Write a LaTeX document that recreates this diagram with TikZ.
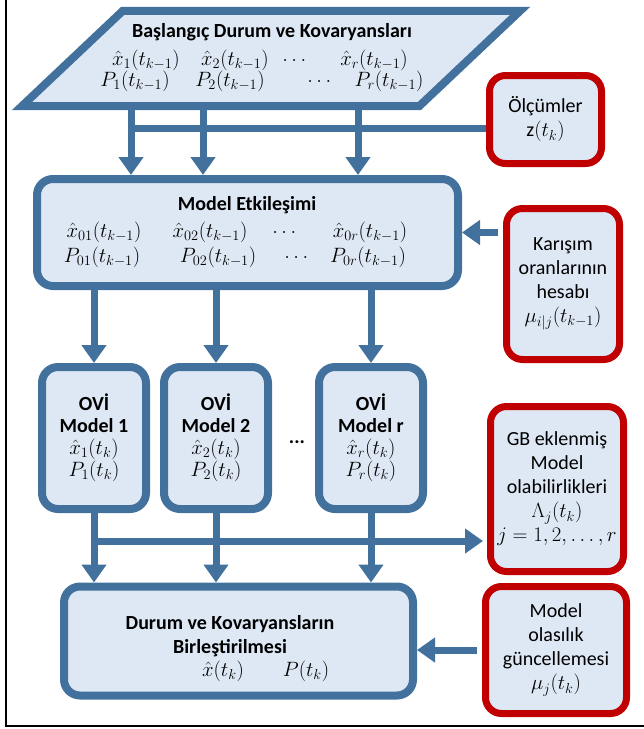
\documentclass[tikz,border=0pt]{standalone}
\usepackage{fontspec}
\setmainfont{Carlito}
\usepackage{amsmath}
\usetikzlibrary{arrows.meta, positioning}

\definecolor{boxblue}{RGB}{65,113,156}
\definecolor{boxfill}{RGB}{222,232,244}
\definecolor{boxred}{RGB}{192,0,0}

\begin{document}
\begin{tikzpicture}[
        x=1pt, y=-1pt,
        font=\fontsize{20}{24}\selectfont,
        block/.style={rectangle, rounded corners=16pt, draw=boxblue, line width=8pt, fill=boxfill, align=center, inner sep=2pt},
        input/.style={rectangle, rounded corners=16pt, draw=boxred, line width=7pt, fill=boxfill, align=center, inner sep=2pt},
        filter/.style={block, minimum width=104pt, minimum height=142pt, font=\fontsize{20}{22}\selectfont},
        entry/.style={inner sep=0pt},
        flow/.style={draw=boxblue, line width=7pt, -{Triangle[width=24pt, length=18pt]}},
        feed/.style={draw=boxblue, line width=7pt}
    ]
        \useasboundingbox (0,0) rectangle (644,729);
        % Frame
        \draw[line width=2pt] (6,0) -- (6,726) -- (644,726);

        % Initial states (parallelogram round the body)
        \node[minimum width=397pt, minimum height=95pt, inner sep=0pt] (init) at (271,58.5) {};
        \draw[draw=boxblue, line width=8pt, fill=boxfill]
            ([xshift=50.5pt]init.north west) -- ([xshift=50.5pt]init.north east)
            -- ([xshift=-50.5pt]init.south east) -- ([xshift=-50.5pt]init.south west) -- cycle;
        \node (initTitle) at (272,32) {\textbf{Başlangıç Durum ve Kovaryansları}};
        \node[entry] (initX1) at (146,60) {$\hat{x}_1(t_{k-1})$};
        \node[entry] (initX2) at (235,60) {$\hat{x}_2(t_{k-1})$};
        \node[entry] (initXd) at (296,60) {$\dots$};
        \node[entry] (initXr) at (374,60) {$\hat{x}_r(t_{k-1})$};
        \node[entry] (initP1) at (135,81) {$P_1(t_{k-1})$};
        \node[entry] (initP2) at (230,81) {$P_2(t_{k-1})$};
        \node[entry] (initPd) at (321,81) {$\dots$};
        \node[entry] (initPr) at (389,81) {$P_r(t_{k-1})$};

        % Measurements
        \node[input, minimum width=112pt, minimum height=88pt] (meas) at (545.5,119.5) {Ölçümler\\$\mathrm{z}(t_k)$};

        % Model interaction
        \node[block, minimum width=421pt, minimum height=107pt] (mix) at (247.5,232.5) {};
        \node (mixTitle) at (247,205) {\textbf{Model Etkileşimi}};
        \node[entry] (mixX1) at (104,232) {$\hat{x}_{01}(t_{k-1})$};
        \node[entry] (mixX2) at (210,232) {$\hat{x}_{02}(t_{k-1})$};
        \node[entry] (mixXd) at (286,232) {$\dots$};
        \node[entry] (mixXr) at (370,232) {$\hat{x}_{0r}(t_{k-1})$};
        \node[entry] (mixP1) at (102,257) {$P_{01}(t_{k-1})$};
        \node[entry] (mixP2) at (218,257) {$P_{02}(t_{k-1})$};
        \node[entry] (mixPd) at (298,257) {$\dots$};
        \node[entry] (mixPr) at (368,257) {$P_{0r}(t_{k-1})$};

        % Mixing ratios
        \node[input, minimum width=113pt, minimum height=151pt] (ratio) at (563,284) {Karışım\\oranlarının\\hesabı\\$\mu_{i|j}(t_{k-1})$};

        % Filters
        \node[filter] (ovi1) at (94,438) {\textbf{OVİ}\\\textbf{Model 1}\\$\hat{x}_1(t_k)$\\$P_1(t_k)$};
        \node[filter] (ovi2) at (216,438) {\textbf{OVİ}\\\textbf{Model 2}\\$\hat{x}_2(t_k)$\\$P_2(t_k)$};
        \node[filter] (ovi3) at (371,438) {\textbf{OVİ}\\\textbf{Model r}\\$\hat{x}_r(t_k)$\\$P_r(t_k)$};
        \node[entry] (oviDots) at (297,442) {\textbf{...}};

        % Likelihoods
        \node[input, minimum width=133pt, minimum height=165pt] (gb) at (557,489) {GB eklenmiş\\Model\\olabilirlikleri\\$\Lambda_j(t_k)$\\$j=1,2,\dots,r$};

        % Combination
        \node[block, minimum width=349pt, minimum height=109pt] (fuse) at (238.5,641) {};
        \node[align=center] (fuseTitle) at (230,636) {\textbf{Durum ve Kovaryansların}\\\textbf{Birleştirilmesi}};
        \node[entry] (fuseX) at (223,671) {$\hat{x}(t_k)$};
        \node[entry] (fuseP) at (306,671) {$P(t_k)$};

        % Probability update
        \node[input, minimum width=141pt, minimum height=127pt] (upd) at (556,650) {Model\\olasılık\\güncellemesi\\$\mu_j(t_k)$};

        % Connections
        \coordinate (s1) at (131,0);
        \coordinate (s2) at (203,0);
        \coordinate (s3) at (358,0);
        \coordinate (bus) at (0,128);
        \coordinate (lik) at (0,541);
        \draw[flow] (init.south -| s1) -- (mix.north -| s1);
        \draw[flow] (init.south -| s2) -- (mix.north -| s2);
        \draw[flow] (init.south -| s3) -- (mix.north -| s3);
        \draw[feed] (meas.west |- bus) -- (bus -| s1);
        \draw[flow, shorten <=5pt] (ratio.west |- mix.east) -- (mix.east);
        \draw[flow] (mix.south -| ovi1) -- (ovi1.north);
        \draw[flow] (mix.south -| ovi2) -- (ovi2.north);
        \draw[flow] (mix.south -| ovi3) -- (ovi3.north);
        \draw[flow] (ovi1.south) -- (ovi1.south |- fuse.north);
        \draw[flow] (ovi2.south) -- (ovi2.south |- fuse.north);
        \draw[flow] (ovi3.south) -- (ovi3.south |- fuse.north);
        \draw[flow, shorten >=4pt] (ovi1.south |- lik) -- (lik -| gb.west);
        \draw[flow, shorten <=5pt] (upd.west) -- (upd.west -| fuse.east);
    \end{tikzpicture}
\end{document}
